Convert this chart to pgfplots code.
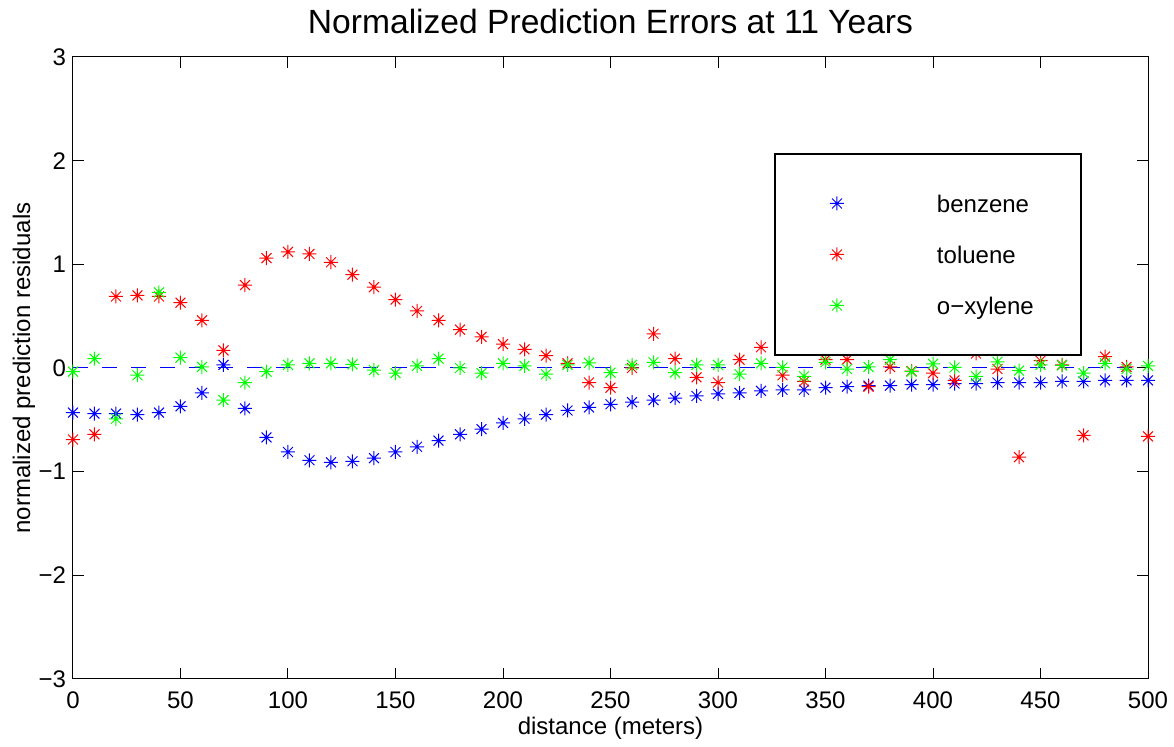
\documentclass[border=0pt]{standalone}
\usepackage{fontspec}
\setmainfont{Liberation Sans}
\usepackage{pgfplots}
\pgfplotsset{compat=1.18}

% MATLAB-style eight-arm asterisk
\pgfdeclareplotmark{mstar}{%
  \pgfpathmoveto{\pgfpoint{-\pgfplotmarksize}{0pt}}%
  \pgfpathlineto{\pgfpoint{\pgfplotmarksize}{0pt}}%
  \pgfpathmoveto{\pgfpoint{0pt}{-\pgfplotmarksize}}%
  \pgfpathlineto{\pgfpoint{0pt}{\pgfplotmarksize}}%
  \pgfpathmoveto{\pgfpoint{-0.707\pgfplotmarksize}{-0.707\pgfplotmarksize}}%
  \pgfpathlineto{\pgfpoint{0.707\pgfplotmarksize}{0.707\pgfplotmarksize}}%
  \pgfpathmoveto{\pgfpoint{-0.707\pgfplotmarksize}{0.707\pgfplotmarksize}}%
  \pgfpathlineto{\pgfpoint{0.707\pgfplotmarksize}{-0.707\pgfplotmarksize}}%
  \pgfusepathqstroke}

\pgfplotsset{
  leg/.style={legend image code/.code={%
    \path[draw=none, fill=none] (0pt,-12.75pt) rectangle (81pt,12.75pt);
    \draw[##1] plot coordinates {(31pt,0pt)};}},
  series/.style={only marks, mark=mstar, mark size=3.5pt, line width=0.5pt,
    color=#1, mark options={solid}, leg},
}

\pgfplotstableread{
x benzene toluene xylene
0   -0.43 -0.69 -0.035
10  -0.44 -0.64  0.09
20  -0.44  0.69 -0.49
30  -0.45  0.70 -0.07
40  -0.43  0.69  0.73
50  -0.37  0.63  0.10
60  -0.24  0.46  0.01
70   0.03  0.17 -0.31
80  -0.39  0.80 -0.14
90  -0.67  1.06 -0.035
100 -0.81  1.12  0.03
110 -0.89  1.10  0.045
120 -0.91  1.02  0.045
130 -0.90  0.90  0.035
140 -0.87  0.78 -0.02
150 -0.81  0.66 -0.05
160 -0.76  0.55  0.02
170 -0.70  0.46  0.09
180 -0.64  0.37  0.00
190 -0.59  0.30 -0.05
200 -0.53  0.23  0.045
210 -0.49  0.18  0.02
220 -0.45  0.12 -0.06
230 -0.41  0.045 0.03
240 -0.38 -0.14  0.05
250 -0.35 -0.19 -0.045
260 -0.33  0.00  0.03
270 -0.31  0.33  0.055
280 -0.29  0.09 -0.045
290 -0.27 -0.09  0.03
300 -0.25 -0.14  0.03
310 -0.24  0.08 -0.06
320 -0.22  0.20  0.045
330 -0.21 -0.07  0.005
340 -0.21 -0.13 -0.08
350 -0.19  0.08  0.055
360 -0.18  0.08 -0.01
370 -0.17 -0.18  0.01
380 -0.17  0.01  0.08
390 -0.16 -0.03 -0.035
400 -0.16 -0.05  0.04
410 -0.15 -0.12  0.005
420 -0.15  0.14 -0.08
430 -0.14 -0.01  0.06
440 -0.14 -0.86 -0.025
450 -0.14  0.07  0.03
460 -0.13  0.03  0.025
470 -0.13 -0.65 -0.05
480 -0.12  0.11  0.045
490 -0.12  0.01 -0.01
500 -0.12 -0.66  0.02
}\residuals

\begin{document}
\begin{tikzpicture}
\useasboundingbox (-36.5pt,-34pt) rectangle (550.5pt,339.5pt);
\begin{axis}[
  scale only axis,
  width=537.5pt,
  height=311pt,
  xmin=0, xmax=500,
  ymin=-3, ymax=3,
  xtick={0,50,...,500},
  ytick={-3,-2,-1,0,1,2,3},
  yticklabels={−3,−2,−1,0,1,2,3},
  tick align=inside,
  major tick length=5.5pt,
  axis line style={line width=0.5pt},
  every tick/.style={black, line width=0.5pt},
  clip=false,
  /pgf/number format/assume math mode=true,
  tick label style={font=\fontsize{12}{14}\selectfont},
  xticklabel style={yshift=-3pt},
  title={Normalized Prediction Errors at 11 Years},
  title style={font=\fontsize{16.8}{20}\selectfont, at={(axis description cs:0.5,1)}, anchor=base, yshift=5.5pt},
  xlabel={distance (meters)},
  xlabel style={font=\fontsize{12}{14}\selectfont, at={(axis description cs:0.5,-0.09)}, anchor=base},
  ylabel={normalized prediction residuals},
  ylabel style={font=\fontsize{12}{14}\selectfont, at={(axis description cs:-0.04,0.5)}, anchor=base, rotate=0},
  legend cell align=left,
  legend style={at={(0.9386,0.8457)}, anchor=north east, draw=black, line width=1pt, fill=white,
    inner xsep=0pt, inner ysep=12pt,
    nodes={inner sep=0pt, text depth=0pt, text width=72pt, font=\fontsize{12}{14}\selectfont}},
]
\addplot[series=blue] table[x=x, y=benzene] {\residuals};
\addlegendentry{benzene}
\addplot[series=red] table[x=x, y=toluene] {\residuals};
\addlegendentry{toluene}
\addplot[series=green] table[x=x, y=xylene] {\residuals};
\addlegendentry{o−xylene}
\addplot[blue, line width=0.5pt, dash pattern=on 7.5pt off 7pt, forget plot] coordinates {(0,0) (500,0)};
\end{axis}
\end{tikzpicture}
\end{document}
